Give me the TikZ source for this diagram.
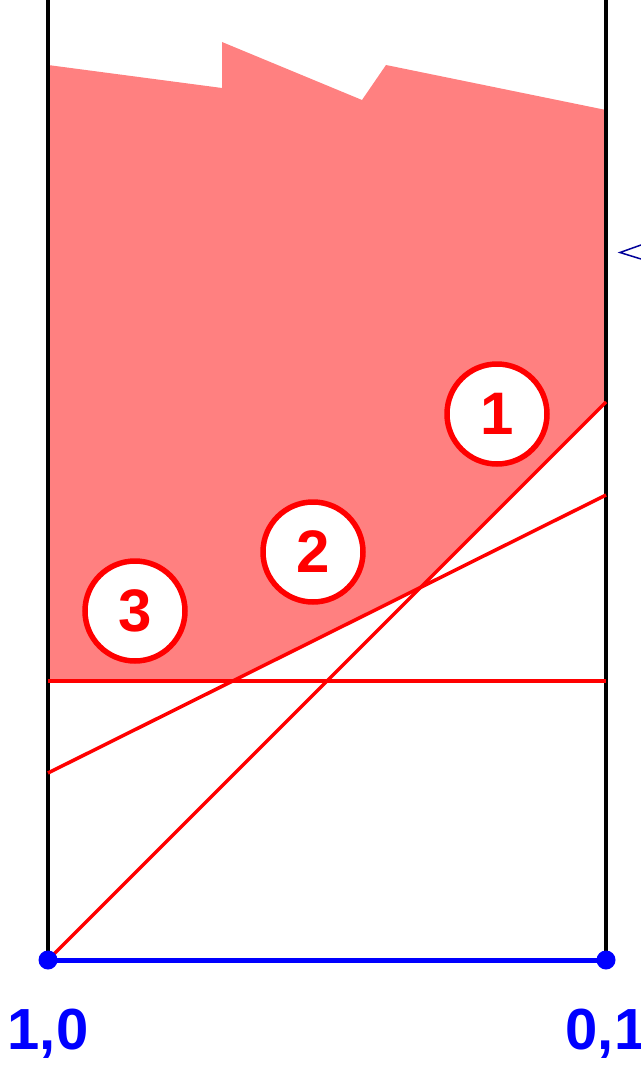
\documentclass[tikz,border=0pt]{standalone}
\usepackage{fontspec}
\setmainfont{Liberation Sans}
\begin{document}
\begin{tikzpicture}[x=1pt,y=-1pt,
  numcircle/.style={circle,draw=red,line width=5.5pt,fill=white,minimum size=100pt,inner sep=0pt,text=red,font=\fontsize{60}{60}\selectfont\bfseries},
  vertex/.style={circle,fill=blue,inner sep=0pt,minimum size=19pt},
  cornerlabel/.style={text=blue,font=\fontsize{58}{58}\selectfont\bfseries,inner sep=0pt},
  redline/.style={red,line width=3.5pt},
  axis/.style={black,line width=4pt}]
\useasboundingbox (0,0) rectangle (640,1065);
% key points
\coordinate (A) at (48,960);
\coordinate (B) at (606,960);
\coordinate (L1r) at (606,402);
\coordinate (L2l) at (48,773);
\coordinate (L2r) at (606,495);
\coordinate (L3l) at (48,681);
\coordinate (L3r) at (606,681);
\coordinate (P12) at (420.5,587.5);
\coordinate (P23) at (232.7,681);
% shaded region
\fill[red!50] (48,65) -- (222,88) -- (222,42) -- (362,100) -- (386,65) -- (606,110)
  -- (L1r) -- (P12) -- (P23) -- (L3l) -- cycle;
% vertical sides
\draw[axis] (48,0) -- (A);
\draw[axis] (606,0) -- (B);
% red lines
\draw[redline] (A) -- (L1r);
\draw[redline] (L2l) -- (L2r);
\draw[redline] (L3l) -- (L3r);
% bottom edge
\draw[blue,line width=5pt] (A) -- (B);
\node[vertex] (vA) at (A) {};
\node[vertex] (vB) at (B) {};
% labels
\node[cornerlabel] (lA) at (48,1034) {1,0};
\node[cornerlabel] (lB) at (606,1034) {0,1};
% numbered circles
\node[numcircle] (c1) at (497,414) {1};
\node[numcircle] (c2) at (313,552) {2};
\node[numcircle] (c3) at (135,611) {3};
% partial symbol at right edge
\draw[blue!60!black,line width=1.5pt] (641,245) -- (620,252.5) -- (641,259);
\end{tikzpicture}
\end{document}
